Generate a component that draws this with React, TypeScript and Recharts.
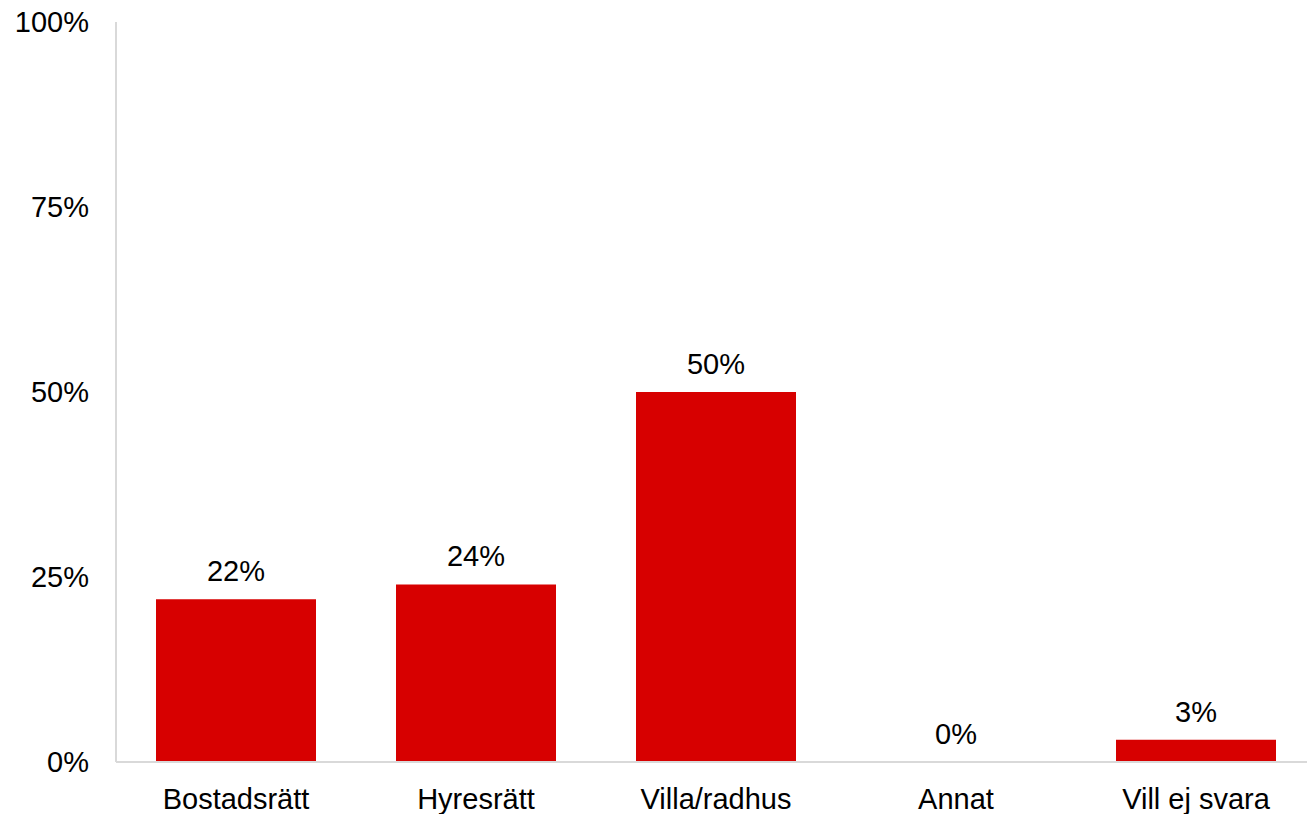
import React from "react";
import { ComposedChart, Bar, Line, XAxis, YAxis, LabelList } from "recharts";

const categories = ["Bostadsrätt", "Hyresrätt", "Villa/radhus", "Annat", "Vill ej svara"];
const values = [22, 24, 50, 0, 3];
const yTicks = [0, 25, 50, 75, 100];

const data = categories.map((name, i) => ({ name, value: values[i] }));

const FONT = "'Liberation Sans', Arial, sans-serif";
const FS = 29;

export default function App() {
  return (
    <div style={{ position: "absolute", left: 0, top: 0, width: 1307, height: 814, overflow: "hidden", background: "#fff" }}>
      <ComposedChart
        width={1320}
        height={814}
        data={data}
        margin={{ top: 22, right: 4, bottom: 0, left: 0 }}
        style={{ fontFamily: FONT }}
      >
        <XAxis
          dataKey="name"
          height={52}
          axisLine={{ stroke: "#d9d9d9", strokeWidth: 2 }}
          tickLine={false}
          tickMargin={20}
          tick={{ fill: "#000", fontSize: FS, fontFamily: FONT }}
          interval={0}
        />
        <YAxis
          width={116}
          domain={[0, 100]}
          ticks={yTicks}
          tickFormatter={(v: number) => `${v}%`}
          axisLine={{ stroke: "#d9d9d9", strokeWidth: 2 }}
          tickLine={false}
          tickMargin={21}
          tick={{ fill: "#000", fontSize: FS, fontFamily: FONT }}
        />
        <Bar dataKey="value" fill="#d70000" barSize={160} isAnimationActive={false} />
        <Line
          dataKey="value"
          stroke="none"
          dot={false}
          activeDot={false}
          legendType="none"
          isAnimationActive={false}
        >
          <LabelList
            dataKey="value"
            position="top"
            offset={18}
            formatter={(v: number) => `${v}%`}
            style={{ fill: "#000", fontSize: FS, fontFamily: FONT }}
          />
        </Line>
      </ComposedChart>
    </div>
  );
}
